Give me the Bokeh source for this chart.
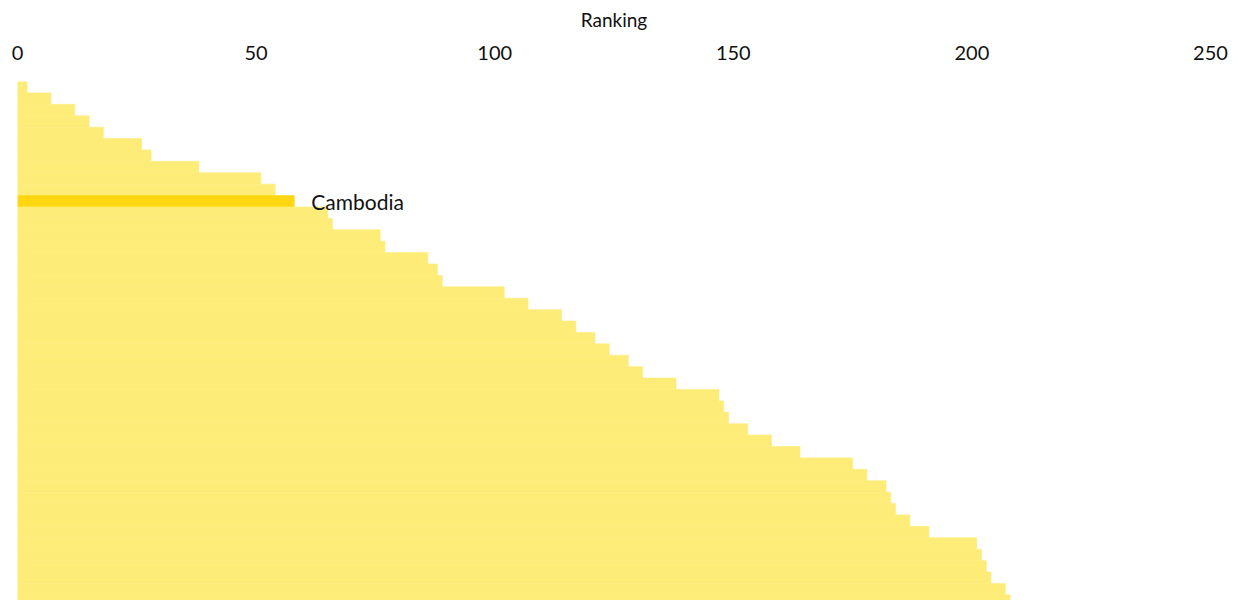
from bokeh.plotting import figure
from bokeh.models import Range1d, ColumnDataSource, FixedTicker
from bokeh.core.properties import value
from bokeh.embed import file_html
from bokeh.resources import INLINE

# ---- data ----
ranking = [2, 7, 12, 15, 18, 26, 28, 38, 51, 54, 58, 65, 66, 76, 77, 86, 88, 89,
           102, 107, 114, 117, 121, 124, 128, 131, 138, 147, 148, 149, 153, 158,
           164, 175, 178, 182, 183, 184, 187, 191, 201, 202, 203, 204, 207, 208]
highlight_row = 10
highlight_label = "Cambodia"
x_ticks = [0, 50, 100, 150, 200, 250]
x_title = "Ranking"

LIGHT = "#FEEC78"
DARK = "#FFD610"
FONT = "Lato"

rows = list(range(len(ranking)))
colors = [DARK if i == highlight_row else LIGHT for i in rows]
src = ColumnDataSource(dict(y=rows, right=ranking, color=colors))

W, H = 1238, 600
p = figure(width=W, height=H, output_backend="svg", toolbar_location=None,
           x_axis_location="above",
           x_range=Range1d(0, 250),
           y_range=Range1d(len(ranking) - 1.0, -0.5),
           min_border_left=17, min_border_right=28, min_border_top=81,
           min_border_bottom=0)

p.hbar(y="y", left=0, right="right", height=1.0, fill_color="color",
       line_color="color", line_width=0.6, source=src)

p.text(x=[ranking[highlight_row]], y=[highlight_row], text=[highlight_label],
       x_offset=17, text_baseline="middle", text_align="left",
       text_font=value(FONT), text_font_size="21px", text_color="#111111")

p.yaxis.visible = False
p.xgrid.visible = False
p.ygrid.visible = False
p.outline_line_color = None

ax = p.xaxis[0]
ax.ticker = FixedTicker(ticks=x_ticks)
ax.axis_line_color = None
ax.major_tick_line_color = None
ax.minor_tick_line_color = None
ax.major_tick_out = 0
ax.major_tick_in = 0
ax.major_label_standoff = 22
ax.major_label_text_font = FONT
ax.major_label_text_font_size = "20px"
ax.major_label_text_color = "#111111"
ax.axis_label = x_title
ax.axis_label_text_font = FONT
ax.axis_label_text_font_size = "19px"
ax.axis_label_text_font_style = "normal"
ax.axis_label_text_color = "#111111"
ax.axis_label_standoff = 12

open("out.html", "w").write(file_html(p, INLINE))
